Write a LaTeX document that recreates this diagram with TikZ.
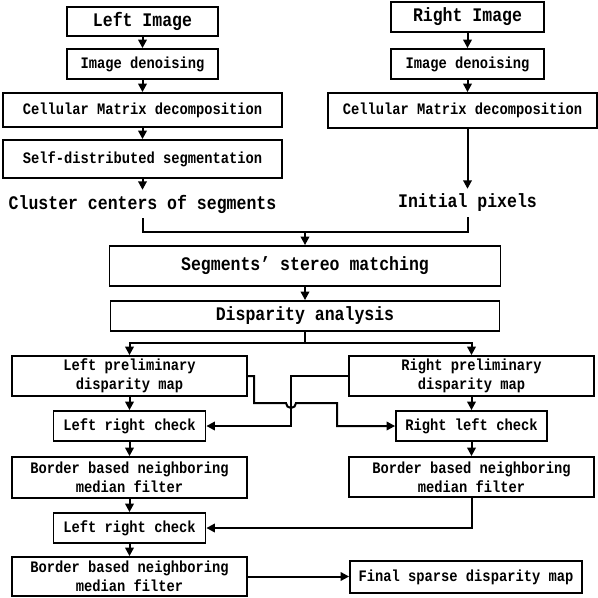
\documentclass[tikz,border=0pt]{standalone}
\usepackage{fontspec}
\setmainfont{Liberation Mono}[FakeStretch=0.86]
\usepackage{tikz}
\usetikzlibrary{arrows.meta}
\tikzset{
  box/.style={draw, line width=1.8pt, inner sep=0pt, align=center, font=\bfseries\fontsize{16}{19}\selectfont},
  bigbox/.style={box, font=\bfseries\fontsize{19.2}{22}\selectfont},
  lbl/.style={inner sep=0pt, minimum height=28pt, font=\bfseries\fontsize{19.2}{22}\selectfont},
  arr/.style={line width=2pt, -{Triangle[length=8.5pt,width=8.5pt]}},
  ln/.style={line width=2pt}
}
\begin{document}
\begin{tikzpicture}[x=1pt,y=-1pt]
        \useasboundingbox (0,0) rectangle (598,598);
        % left top
        \node[bigbox, minimum width=151pt, minimum height=29pt] (limg) at (142.5,21.5) {Left Image};
        \node[box, minimum width=151pt, minimum height=30pt] (lden) at (142.5,64) {Image denoising};
        \node[box, minimum width=279pt, minimum height=34pt] (lcmd) at (142.5,110) {Cellular Matrix decomposition};
        \node[box, minimum width=279pt, minimum height=38pt] (lseg) at (142.5,159) {Self-distributed segmentation};
        \node[lbl] (clus) at (142.5,204) {Cluster centers of segments};
        % right top
        \node[bigbox, minimum width=153pt, minimum height=30pt] (rimg) at (467.5,17) {Right Image};
        \node[box, minimum width=153pt, minimum height=30pt] (rden) at (467.5,64) {Image denoising};
        \node[box, minimum width=269pt, minimum height=35pt] (rcmd) at (462.5,110.5) {Cellular Matrix decomposition};
        \node[lbl] (init) at (467.5,203) {Initial pixels};
        % middle
        \node[bigbox, minimum width=391pt, minimum height=40pt] (match) at (305,266) {Segments' stereo matching};
        \node[bigbox, minimum width=389pt, minimum height=30pt] (disp) at (305,316) {Disparity analysis};
        \coordinate (join) at (305,232);
        \coordinate (split) at (305,343);
        % left bottom
        \node[box, minimum width=235pt, minimum height=40pt] (lpre) at (129.5,376) {Left preliminary\\disparity map};
        \node[box, minimum width=152pt, minimum height=30pt] (lrc) at (129.5,426) {Left right check};
        \node[box, minimum width=235pt, minimum height=41pt] (lbm) at (129.5,477.5) {Border based neighboring\\median filter};
        \node[box, minimum width=152pt, minimum height=30pt] (lrcb) at (129.5,528) {Left right check};
        \node[box, minimum width=235pt, minimum height=39pt] (lbmb) at (129.5,576.5) {Border based neighboring\\median filter};
        % right bottom
        \node[box, minimum width=245pt, minimum height=40pt] (rpre) at (471.5,376) {Right preliminary\\disparity map};
        \node[box, minimum width=151pt, minimum height=30pt] (rlc) at (471.5,426) {Right left check};
        \node[box, minimum width=245pt, minimum height=40pt] (rbm) at (471.5,477) {Border based neighboring\\median filter};
        \node[box, minimum width=232pt, minimum height=32pt] (fin) at (466,577) {Final sparse disparity map};

        % arrows
        \draw[arr] (limg) -- (lden);
        \draw[arr] (lden) -- (lcmd);
        \draw[arr] (lcmd) -- (lseg);
        \draw[arr] (lseg) -- (clus);
        \draw[arr] (rimg) -- (rden);
        \draw[arr] (rden.south) -- (rden.south |- rcmd.north);
        \draw[arr] (rden.south |- rcmd.south) -- (init);
        \draw[ln] (clus.south) |- (join) -| (init.south);
        \draw[arr] (join) -- (match);
        \draw[arr] (match) -- (disp);
        \draw[ln] (disp) -- (split);
        \draw[arr] (split) -| (lpre.north);
        \draw[arr] (split) -| (rpre.north);
        \draw[arr] (lpre) -- (lrc);
        \draw[arr] (lrc) -- (lbm);
        \draw[arr] (lbm) -- (lrcb);
        \draw[arr] (lrcb) -- (lbmb);
        \draw[arr] (rpre) -- (rlc);
        \draw[arr] (rlc) -- (rbm);
        % crossing
        \draw[arr] (lpre.east) -- (254,376) -- (254,403) -- (286,403) arc (180:0:5) -- (337,403) |- (rlc.west);
        \draw[arr] (rpre.west) -- (291,376) |- (lrc.east);
        \draw[arr] (rbm.south) |- (lrcb.east);
        \draw[arr] (lbmb.east) -- (lbmb.east -| fin.west);
\end{tikzpicture}
\end{document}
